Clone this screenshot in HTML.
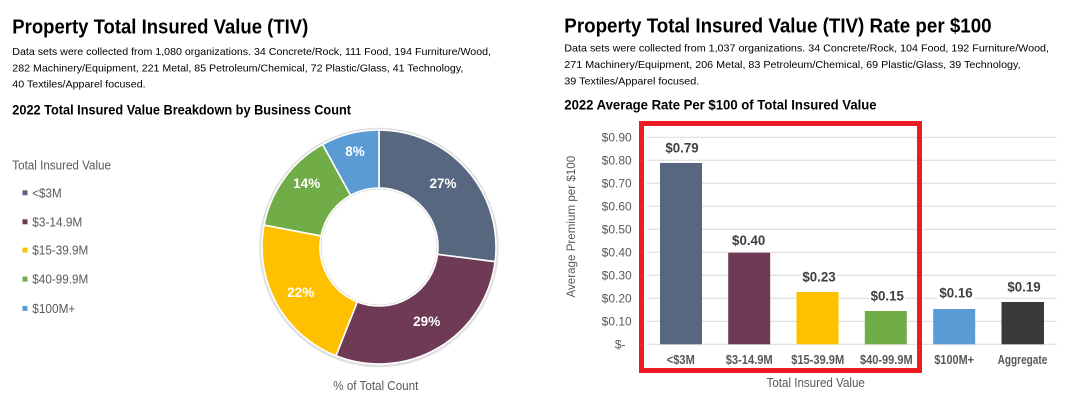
<!DOCTYPE html>
<html><head><meta charset="utf-8"><style>
html,body{margin:0;padding:0;background:#fff;}
svg{display:block;}
text{font-family:"Liberation Sans",Arial,sans-serif;}
</style></head><body>
<svg width="1066" height="402" viewBox="0 0 1066 402" xmlns="http://www.w3.org/2000/svg">
<rect width="1066" height="402" fill="#fff"/>
<!-- Left header -->
<text x="12.3" y="33.3" font-size="20" font-weight="bold" fill="#000" textLength="296" lengthAdjust="spacingAndGlyphs">Property Total Insured Value (TIV)</text>
<text x="12.3" y="55" font-size="10.5" fill="#000" textLength="478.7" lengthAdjust="spacingAndGlyphs">Data sets were collected from 1,080 organizations. 34 Concrete/Rock, 111 Food, 194 Furniture/Wood,</text>
<text x="12.3" y="71.3" font-size="10.5" fill="#000" textLength="451" lengthAdjust="spacingAndGlyphs">282 Machinery/Equipment, 221 Metal, 85 Petroleum/Chemical, 72 Plastic/Glass, 41 Technology,</text>
<text x="12.3" y="87.7" font-size="10.5" fill="#000" textLength="133.3" lengthAdjust="spacingAndGlyphs">40 Textiles/Apparel focused.</text>
<text x="12.3" y="114.3" font-size="14" font-weight="bold" fill="#000" textLength="338.7" lengthAdjust="spacingAndGlyphs">2022 Total Insured Value Breakdown by Business Count</text>

<!-- Right header -->
<text x="564.3" y="32.3" font-size="20" font-weight="bold" fill="#000" textLength="427.3" lengthAdjust="spacingAndGlyphs">Property Total Insured Value (TIV) Rate per $100</text>
<text x="564.3" y="51.7" font-size="10.5" fill="#000" textLength="484.7" lengthAdjust="spacingAndGlyphs">Data sets were collected from 1,037 organizations. 34 Concrete/Rock, 104 Food, 192 Furniture/Wood,</text>
<text x="564.3" y="68" font-size="10.5" fill="#000" textLength="456.3" lengthAdjust="spacingAndGlyphs">271 Machinery/Equipment, 206 Metal, 83 Petroleum/Chemical, 69 Plastic/Glass, 39 Technology,</text>
<text x="564.3" y="84.3" font-size="10.5" fill="#000" textLength="135" lengthAdjust="spacingAndGlyphs">39 Textiles/Apparel focused.</text>
<text x="564.3" y="109.3" font-size="14" font-weight="bold" fill="#000" textLength="312.3" lengthAdjust="spacingAndGlyphs">2022 Average Rate Per $100 of Total Insured Value</text>

<!-- Donut legend -->
<text x="12.3" y="169.5" font-size="12.5" fill="#595959" textLength="98.7" lengthAdjust="spacingAndGlyphs">Total Insured Value</text>
<rect x="22.5" y="190.3" width="5" height="5" fill="#586780"/>
<text x="32.3" y="197.3" font-size="13" fill="#595959" textLength="29.3" lengthAdjust="spacingAndGlyphs">&lt;$3M</text>
<rect x="22.5" y="219.3" width="5" height="5" fill="#6e3a55"/>
<text x="32.3" y="226.3" font-size="13" fill="#595959" textLength="50" lengthAdjust="spacingAndGlyphs">$3-14.9M</text>
<rect x="22.5" y="247.6" width="5" height="5" fill="#ffc000"/>
<text x="32.3" y="254.6" font-size="13" fill="#595959" textLength="56" lengthAdjust="spacingAndGlyphs">$15-39.9M</text>
<rect x="22.5" y="276.6" width="5" height="5" fill="#70ad47"/>
<text x="32.3" y="283.6" font-size="13" fill="#595959" textLength="56" lengthAdjust="spacingAndGlyphs">$40-99.9M</text>
<rect x="22.5" y="305.9" width="5" height="5" fill="#5b9bd5"/>
<text x="32.3" y="312.9" font-size="13" fill="#595959" textLength="43" lengthAdjust="spacingAndGlyphs">$100M+</text>

<!-- Donut -->
<circle cx="379" cy="247.5" r="118.5" fill="none" stroke="#000" stroke-opacity="0.12" stroke-width="2.5"/>
<circle cx="379" cy="247" r="58.5" fill="none" stroke="#000" stroke-opacity="0.15" stroke-width="2"/>
<g stroke="#fff" stroke-width="1.6" stroke-linejoin="round">
<path d="M379,130 A117,117 0 0 1 495.08,261.66 L437.53,254.39 A59,59 0 0 0 379,188 Z" fill="#586780"/>
<path d="M495.08,261.66 A117,117 0 0 1 335.93,355.78 L357.28,301.86 A59,59 0 0 0 437.53,254.39 Z" fill="#6e3a55"/>
<path d="M335.93,355.78 A117,117 0 0 1 264.07,225.08 L321.04,235.94 A59,59 0 0 0 357.28,301.86 Z" fill="#ffc000"/>
<path d="M264.07,225.08 A117,117 0 0 1 322.64,144.47 L350.58,195.30 A59,59 0 0 0 321.04,235.94 Z" fill="#70ad47"/>
<path d="M322.64,144.47 A117,117 0 0 1 379,130 L379,188 A59,59 0 0 0 350.58,195.30 Z" fill="#5b9bd5"/>
</g>
<g font-size="13.5" font-weight="bold" fill="#fff" text-anchor="middle">
<text x="443" y="188">27%</text>
<text x="426.7" y="326">29%</text>
<text x="300.7" y="297">22%</text>
<text x="306.7" y="188">14%</text>
<text x="355" y="156">8%</text>
</g>
<text x="375.8" y="390" font-size="12.5" fill="#595959" text-anchor="middle" textLength="85" lengthAdjust="spacingAndGlyphs">% of Total Count</text>

<!-- Bar chart gridlines -->
<g stroke="#d9d9d9" stroke-width="1">
<line x1="646.7" x2="1056.7" y1="137.3" y2="137.3"/>
<line x1="646.7" x2="1056.7" y1="160.3" y2="160.3"/>
<line x1="646.7" x2="1056.7" y1="183.3" y2="183.3"/>
<line x1="646.7" x2="1056.7" y1="206.3" y2="206.3"/>
<line x1="646.7" x2="1056.7" y1="229.3" y2="229.3"/>
<line x1="646.7" x2="1056.7" y1="252.3" y2="252.3"/>
<line x1="646.7" x2="1056.7" y1="275.3" y2="275.3"/>
<line x1="646.7" x2="1056.7" y1="298.3" y2="298.3"/>
<line x1="646.7" x2="1056.7" y1="321.3" y2="321.3"/>
<line x1="646.7" x2="1056.7" y1="344.3" y2="344.3"/>
</g>
<!-- Y tick labels -->
<g font-size="12" fill="#595959" text-anchor="end">
<text x="631.7" y="141.6">$0.90</text>
<text x="631.7" y="164.6">$0.80</text>
<text x="631.7" y="187.6">$0.70</text>
<text x="631.7" y="210.6">$0.60</text>
<text x="631.7" y="233.6">$0.50</text>
<text x="631.7" y="256.6">$0.40</text>
<text x="631.7" y="279.6">$0.30</text>
<text x="631.7" y="302.6">$0.20</text>
<text x="631.7" y="325.6">$0.10</text>
<text x="625.5" y="348.6">$-</text>
</g>
<text transform="translate(574.8,226.7) rotate(-90)" font-size="12" fill="#595959" text-anchor="middle" textLength="141.7" lengthAdjust="spacingAndGlyphs">Average Premium per $100</text>

<!-- Bars -->
<rect x="660" y="163" width="42" height="181.3" fill="#586780"/>
<rect x="728.2" y="252.7" width="42" height="91.6" fill="#6e3a55"/>
<rect x="796.5" y="292" width="42" height="52.3" fill="#ffc000"/>
<rect x="864.8" y="311" width="42" height="33.3" fill="#70ad47"/>
<rect x="933.2" y="309" width="42" height="35.3" fill="#5b9bd5"/>
<rect x="1001.5" y="302" width="42.5" height="42.3" fill="#3a3838"/>

<!-- Value labels -->
<g fill="#fff">
<rect x="664" y="140" width="36" height="16"/>
<rect x="731" y="232" width="36" height="16"/>
<rect x="801" y="269" width="36" height="16"/>
<rect x="869" y="288" width="36" height="16"/>
<rect x="938" y="285" width="36" height="16"/>
<rect x="1006" y="279" width="36" height="16"/>
</g>
<g font-size="14" font-weight="bold" fill="#404040" text-anchor="middle">
<text x="682" y="152.7" textLength="33.3" lengthAdjust="spacingAndGlyphs">$0.79</text>
<text x="748.7" y="245" textLength="33.3" lengthAdjust="spacingAndGlyphs">$0.40</text>
<text x="819" y="281.7" textLength="33.3" lengthAdjust="spacingAndGlyphs">$0.23</text>
<text x="887.3" y="300.7" textLength="33.3" lengthAdjust="spacingAndGlyphs">$0.15</text>
<text x="956" y="297.7" textLength="33.3" lengthAdjust="spacingAndGlyphs">$0.16</text>
<text x="1024" y="291.7" textLength="33.3" lengthAdjust="spacingAndGlyphs">$0.19</text>
</g>

<!-- Category labels -->
<g font-size="12.5" font-weight="bold" fill="#595959" text-anchor="middle">
<text x="680.8" y="363.8" textLength="28" lengthAdjust="spacingAndGlyphs">&lt;$3M</text>
<text x="749.2" y="363.8" textLength="47" lengthAdjust="spacingAndGlyphs">$3-14.9M</text>
<text x="817.7" y="363.8" textLength="53" lengthAdjust="spacingAndGlyphs">$15-39.9M</text>
<text x="886.3" y="363.8" textLength="52.7" lengthAdjust="spacingAndGlyphs">$40-99.9M</text>
<text x="954.2" y="363.8" textLength="39.7" lengthAdjust="spacingAndGlyphs">$100M+</text>
<text x="1022.5" y="363.8" textLength="49.7" lengthAdjust="spacingAndGlyphs">Aggregate</text>
</g>
<text x="815.7" y="387" font-size="12.5" fill="#595959" text-anchor="middle" textLength="98.3" lengthAdjust="spacingAndGlyphs">Total Insured Value</text>

<!-- Red highlight box -->
<rect x="641.5" y="123.5" width="278" height="247" fill="none" stroke="#ed1c24" stroke-width="5"/>
</svg>
</body></html>
